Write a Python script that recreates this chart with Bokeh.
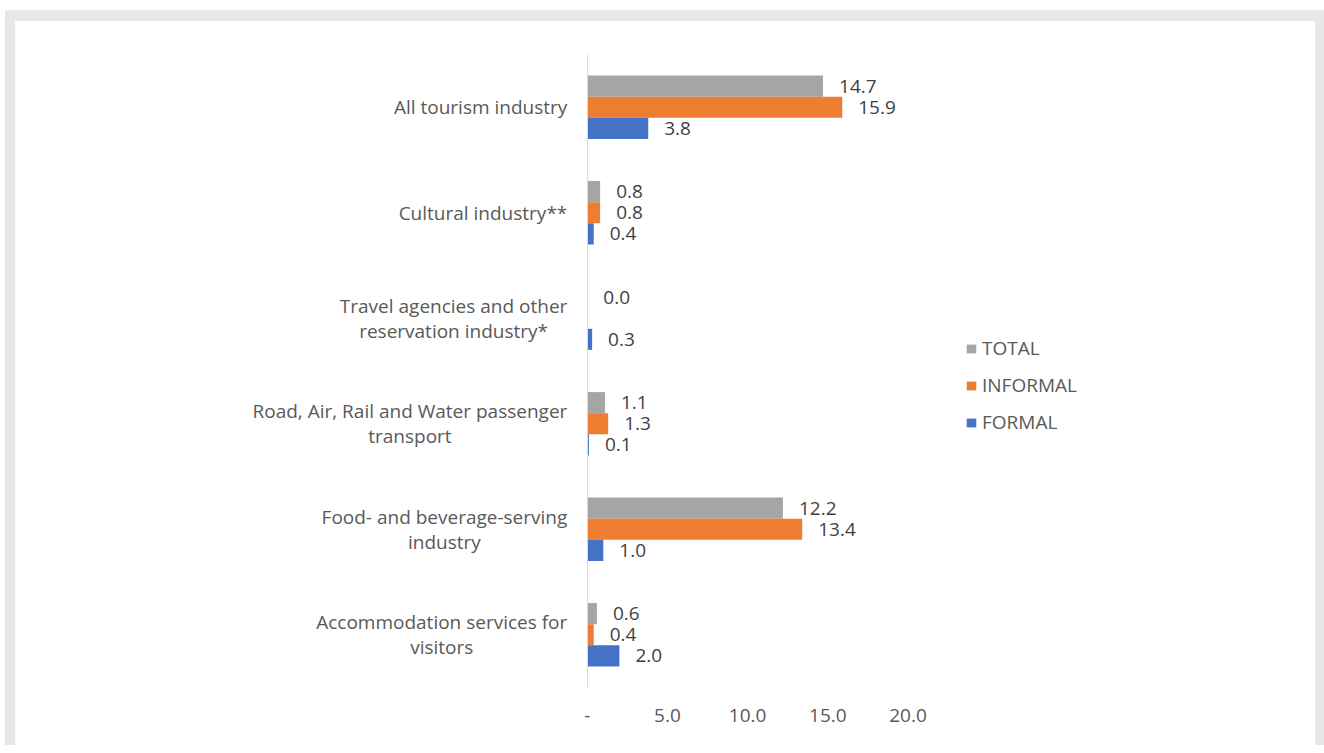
from bokeh.plotting import figure
from bokeh.models import FactorRange, Range1d, FixedTicker, ColumnDataSource, Div, Spacer
from bokeh.layouts import column, row
from bokeh.transform import dodge
from bokeh.embed import file_html
from bokeh.resources import INLINE
from bokeh.core.properties import value

# ---- data (bottom-to-top order on the category axis) ----
categories = [
    "Accommodation services for\nvisitors",
    "Food- and beverage-serving\nindustry",
    "Road, Air, Rail and Water passenger\ntransport",
    "Travel agencies and other\nreservation industry*",
    "Cultural industry**",
    "All tourism industry",
]
total = [0.6, 12.2, 1.1, 0.0, 0.8, 14.7]
informal = [0.4, 13.4, 1.3, None, 0.8, 15.9]
formal = [2.0, 1.0, 0.1, 0.3, 0.4, 3.8]
series_names = ["TOTAL", "INFORMAL", "FORMAL"]
series_values = [total, informal, formal]
colors = ["#A5A5A5", "#ED7D31", "#4472C4"]
x_ticks = [0, 5, 10, 15, 20]
x_tick_labels = ["-", "5.0", "10.0", "15.0", "20.0"]

FONT = "Open Sans"
FS = "19px"
H = 724

p = figure(
    width=1300, height=H,
    y_range=FactorRange(factors=categories),
    x_range=Range1d(-24, 35),
    output_backend="svg", toolbar_location=None,
    min_border_left=187, min_border_right=167,
    min_border_top=33, min_border_bottom=58,
)
p.outline_line_color = None
p.grid.visible = False
p.background_fill_color = "white"
p.border_fill_color = "white"

offsets = [0.2, 0.0, -0.2]
for name, vals, col, off in zip(series_names, series_values, colors, offsets):
    cats = [c for c, v in zip(categories, vals) if v is not None]
    vv = [v for v in vals if v is not None]
    src = ColumnDataSource(dict(cat=cats, v=vv, lab=[f"{v:.1f}" for v in vv]))
    p.hbar(y=dodge("cat", off, range=p.y_range), right="v", left=0, height=0.2,
           source=src, fill_color=col, line_color=None, legend_label=name)
    p.text(x="v", y=dodge("cat", off, range=p.y_range), text="lab", source=src,
           x_offset=16, text_baseline="middle", text_align="left",
           text_font=value(FONT), text_font_size=FS, text_color="#3F3F3F")

# category labels: right-anchored boxes, lines centred (as in the original)
cat_src = ColumnDataSource(dict(cat=categories, x0=[0] * len(categories)))
p.text(x="x0", y="cat", text="cat", source=cat_src, x_offset=-20,
       anchor="center_right", text_align="center", text_baseline="middle",
       text_line_height=0.95,
       text_font=value(FONT), text_font_size=FS, text_color="#595959")

# axes
xa = p.xaxis[0]
xa.ticker = FixedTicker(ticks=x_ticks)
xa.major_label_overrides = {t: l for t, l in zip(x_ticks, x_tick_labels)}
xa.axis_line_color = None
xa.major_tick_line_color = None
xa.minor_tick_line_color = None
xa.major_label_standoff = 15
xa.major_label_text_font = FONT
xa.major_label_text_font_size = FS
xa.major_label_text_color = "#595959"

ya = p.yaxis[0]
ya.fixed_location = 0
ya.ticker = FixedTicker(ticks=[])
ya.axis_line_color = "#D9D9D9"
ya.axis_line_width = 1
ya.major_tick_line_color = None
ya.minor_tick_line_color = None

# legend
lg = p.legend[0]
lg.location = (763, 252)
lg.border_line_color = None
lg.background_fill_alpha = 0
lg.padding = 0
lg.margin = 0
lg.spacing = 11
lg.label_height = 22
lg.glyph_height = 11
lg.glyph_width = 12
lg.label_standoff = 5
lg.label_text_font = FONT
lg.label_text_font_size = FS
lg.label_text_color = "#595959"

# decorative light-grey frame around the chart panel
band = "#E6E7E8"
layout = column(
    Spacer(width=1324, height=10, margin=0),
    row(Spacer(width=5, height=11, margin=0),
        Div(text="", width=1319, height=11, margin=0, styles={"background-color": band}),
        margin=0),
    row(Spacer(width=5, height=H, margin=0),
        Div(text="", width=10, height=H, margin=0, styles={"background-color": band}),
        p,
        Div(text="", width=9, height=H, margin=0, styles={"background-color": band}),
        margin=0),
    margin=0, spacing=0,
)

open("out.html", "w").write(file_html(layout, INLINE))
